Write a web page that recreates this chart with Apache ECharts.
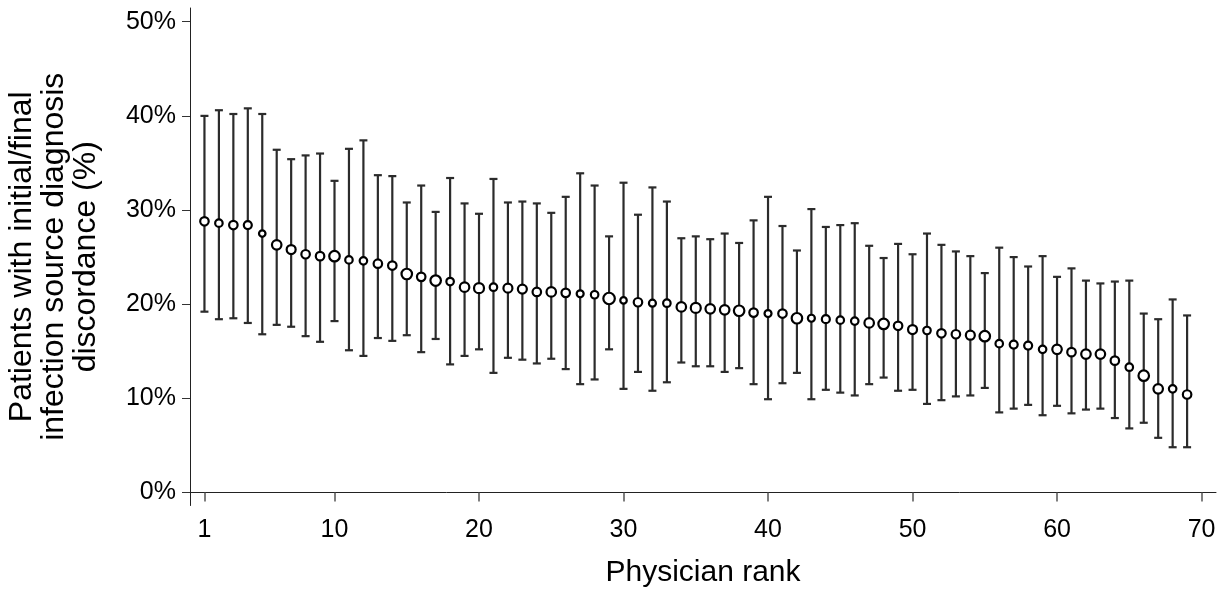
<!DOCTYPE html>
<html>
<head>
<meta charset="utf-8">
<script src="https://cdn.jsdelivr.net/npm/echarts@6/dist/echarts.min.js"></script>
<style>
html,body{margin:0;padding:0;background:#fff;}
#chart{width:1228px;height:594px;}
</style>
</head>
<body>
<div id="chart"></div>
<script>
// ---- data ----
const ranks = [];
for (let i = 1; i <= 69; i++) ranks.push(i);
const estimate = [28.8,28.6,28.4,28.4,27.5,26.3,25.8,25.3,25.1,25.1,24.7,24.6,24.3,24.1,23.2,22.9,22.5,22.4,21.8,21.7,
  21.8,21.7,21.6,21.3,21.3,21.2,21.1,21.0,20.6,20.4,20.2,20.1,20.1,19.7,19.6,19.5,19.4,19.3,19.1,19.0,
  19.0,18.5,18.5,18.4,18.3,18.2,18.0,17.9,17.7,17.3,17.2,16.9,16.8,16.7,16.6,15.8,15.7,15.6,15.2,15.2,
  14.9,14.7,14.7,14.0,13.3,12.4,11.0,11.0,10.4];
const lower = [19.2,18.4,18.5,18.0,16.8,17.8,17.6,16.6,16.0,18.2,15.1,14.5,16.4,16.1,16.7,14.9,16.3,13.6,14.5,15.2,
  12.7,14.3,14.1,13.7,14.2,13.1,11.5,12.0,15.2,11.0,12.8,10.8,11.7,13.8,13.4,13.4,12.8,13.2,11.5,9.9,
  11.6,12.7,9.9,10.9,10.6,10.3,11.5,12.2,10.8,10.9,9.4,9.8,10.2,10.3,11.1,8.5,8.9,9.3,8.2,9.2,
  8.4,8.8,8.9,7.9,6.8,7.4,5.8,4.8,4.8];
const upper = [40.0,40.6,40.2,40.8,40.2,36.4,35.4,35.8,36.0,33.1,36.5,37.4,33.7,33.6,30.8,32.6,29.8,33.4,30.7,29.6,
  33.3,30.8,30.9,30.7,29.7,31.4,33.9,32.6,27.2,32.9,29.5,32.4,30.9,27.0,27.2,26.9,27.5,26.5,28.9,31.4,
  28.3,25.7,30.1,28.2,28.4,28.6,26.2,24.9,26.4,25.3,27.5,26.3,25.6,25.1,23.3,26.0,25.0,24.0,25.1,22.9,
  23.8,22.5,22.2,22.4,22.5,19.0,18.4,20.5,18.8];
// relative physician weight
const relWeight = [8,7,8,7.5,6,9,8.5,8,8,10,7,7,8,8,10,8,10,7,9,9.5,
  7,8.5,8.5,8,9,8,6.5,7,11,6,8,6.5,7,9,9.5,9,9,10,8,6.5,
  8,10,6.5,7.5,7,7,9,10,8,8.5,7,8,8,8.5,10,7,7.5,7.5,7,9,
  8,9,9,8,7,10,9,7,8];
const yTicks = [0,10,20,30,40,50];
const xTicks = [1,10,20,30,40,50,60,70];

const FONT = '"Liberation Sans", Arial, Helvetica, sans-serif';
const chart = echarts.init(document.getElementById('chart'));

const barData = ranks.map((r, i) => [r, lower[i], upper[i]]);
const pointData = ranks.map((r, i) => ({ value: [r, estimate[i]], symbolSize: relWeight[i] + 0.5 }));

chart.setOption({
  animation: false,
  backgroundColor: '#fff',
  grid: { left: 190, right: 12, top: 8, bottom: 88.5, containLabel: false, outerBoundsMode: 'none' },
  xAxis: {
    type: 'value', min: 0, max: 71,
    axisLine: { show: true, lineStyle: { color: '#222', width: 1 } },
    axisTick: { show: true, length: 9, customValues: xTicks, lineStyle: { color: '#555', width: 1.5 } },
    axisLabel: { customValues: xTicks, margin: 12, fontSize: 25, color: '#000', fontFamily: FONT },
    splitLine: { show: false },
    name: 'Physician rank', nameLocation: 'middle', nameGap: 52,
    nameTextStyle: { fontSize: 30, color: '#000', fontFamily: FONT }
  },
  yAxis: {
    type: 'value', min: -1.39, max: 51.46,
    axisLine: { show: true, lineStyle: { color: '#222', width: 1 } },
    axisTick: { show: true, length: 8, customValues: yTicks, lineStyle: { color: '#333', width: 1 } },
    axisLabel: { customValues: yTicks, margin: 14, fontSize: 25, color: '#000', fontFamily: FONT,
      formatter: v => v + '%' },
    splitLine: { show: false },
    name: 'Patients with initial/final\ninfection source diagnosis\ndiscordance (%)',
    nameLocation: 'middle', nameRotate: 90, nameGap: 88,
    nameTextStyle: { fontSize: 32, lineHeight: 32, color: '#000', fontFamily: FONT, align: 'center' }
  },
  series: [
    {
      type: 'custom',
      data: barData,
      encode: { x: 0, y: [1, 2] },
      renderItem: function (params, api) {
        const x = api.value(0);
        const lo = api.coord([x, api.value(1)]);
        const hi = api.coord([x, api.value(2)]);
        const hw = 4;
        const style = { stroke: '#2b2b2b', lineWidth: 2.2 };
        return {
          type: 'group',
          children: [
            { type: 'line', shape: { x1: lo[0], y1: lo[1], x2: hi[0], y2: hi[1] }, style: style },
            { type: 'line', shape: { x1: lo[0] - hw, y1: lo[1], x2: lo[0] + hw, y2: lo[1] }, style: style },
            { type: 'line', shape: { x1: hi[0] - hw, y1: hi[1], x2: hi[0] + hw, y2: hi[1] }, style: style }
          ]
        };
      },
      z: 2
    },
    {
      type: 'scatter',
      data: pointData,
      symbol: 'circle',
      itemStyle: { color: '#fff', borderColor: '#000', borderWidth: 2.2, opacity: 1 },
      z: 3
    }
  ]
});
</script>
</body>
</html>
